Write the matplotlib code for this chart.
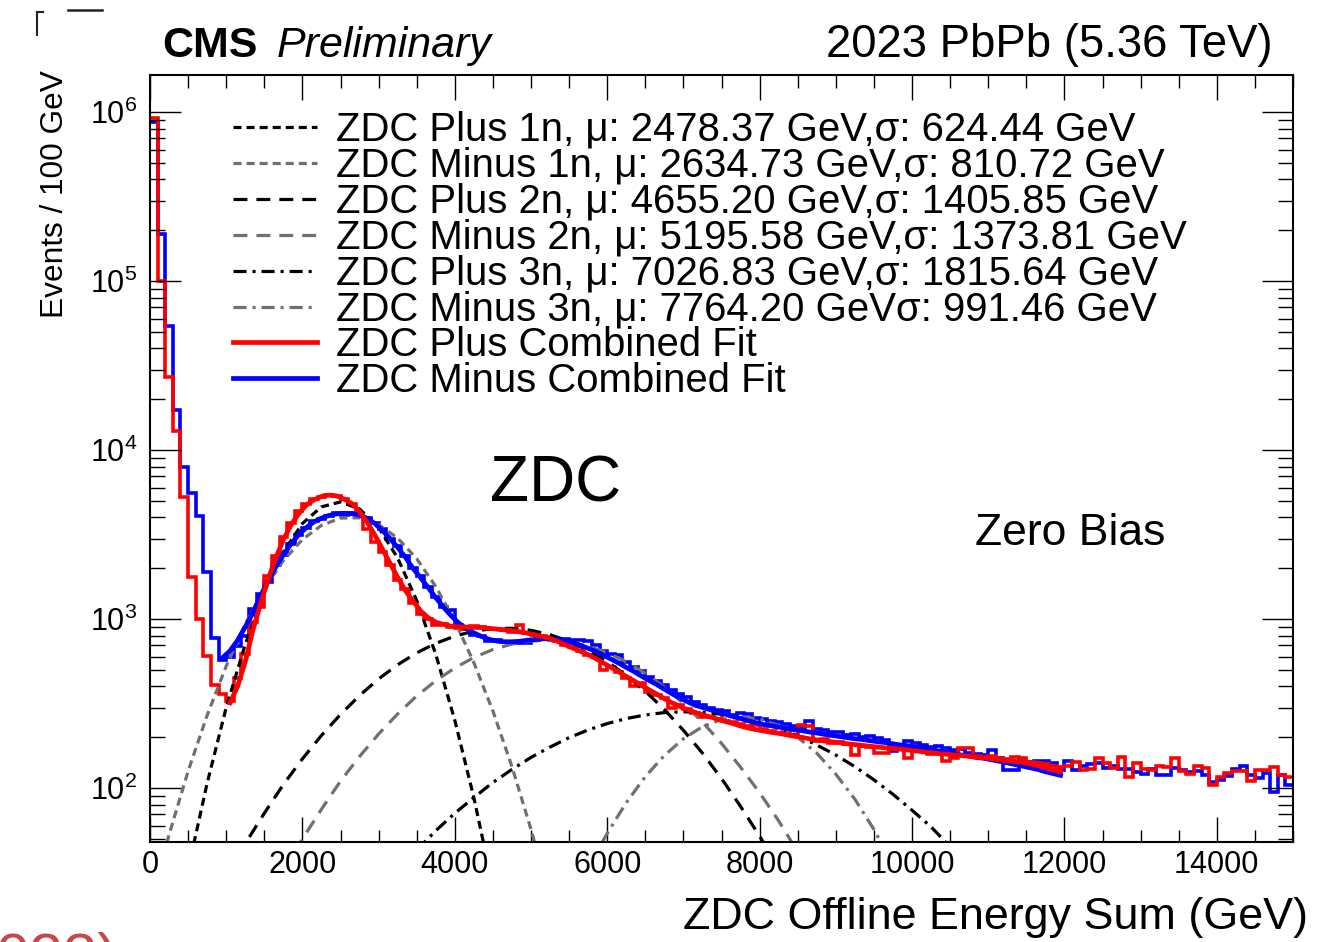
import numpy as np
import matplotlib
matplotlib.use("Agg")
import matplotlib.pyplot as plt
from matplotlib.lines import Line2D

plt.rcParams['font.family'] = ['Liberation Sans', 'DejaVu Sans']
plt.rcParams['mathtext.fontset'] = 'custom'
plt.rcParams['mathtext.rm'] = 'Liberation Sans'
plt.rcParams['lines.scale_dashes'] = False

# Histogramas: bines de 100 GeV entre 0 y 15000 GeV
bin_edges = np.arange(0, 15001, 100)

red_hist = [930000, 100000, 27000, 13000, 5300, 1770, 1000, 604, 406, 360,
            330, 450, 620, 960, 1180, 1800, 2350, 3050, 3700, 4350,
            4800, 5150, 5300, 5450, 5350, 5150, 4800, 4200, 3400, 2850,
            2500, 2100, 1700, 1500, 1240, 1080, 1000, 920, 940, 900,
            890, 880, 910, 900, 870, 880, 860, 845, 920, 830,
            810, 790, 780, 740, 700, 680, 650, 610, 600, 500,
            520, 490, 450, 400, 420, 370, 355, 340, 300, 310,
            292, 280, 265, 262, 278, 250, 245, 240, 232, 236,
            225, 218, 212, 215, 205, 236, 232, 190, 196, 185,
            188, 183, 157, 178, 176, 161, 162, 176, 170, 151,
            168, 165, 160, 163, 144, 150, 173, 172, 155, 151,
            154, 150, 148, 153, 150, 142, 140, 138, 136, 134,
            136, 142, 128, 130, 151, 140, 132, 153, 117, 140,
            130, 128, 135, 133, 151, 126, 122, 135, 132, 104,
            117, 123, 126, 126, 110, 128, 128, 134, 120, 117]

blue_hist = [870000, 190000, 54000, 17300, 8000, 5600, 4060, 1900, 773, 571,
             600, 690, 800, 1150, 1400, 1650, 2100, 2400, 2800, 3150,
             3450, 3800, 3900, 4100, 4250, 4150, 4250, 4100, 3950, 3700,
             3400, 3000, 2700, 2350, 2000, 1800, 1550, 1350, 1180, 1130,
             920, 880, 810, 790, 740, 750, 730, 725, 720, 718,
             750, 760, 770, 750, 765, 755, 752, 740, 700, 650,
             620, 612, 560, 520, 495, 455, 430, 405, 380, 360,
             345, 325, 310, 300, 290, 285, 272, 278, 276, 260,
             258, 250, 245, 238, 232, 228, 249, 225, 222, 215,
             214, 206, 209, 200, 203, 198, 194, 166, 170, 190,
             185, 180, 176, 178, 172, 168, 170, 162, 160, 158,
             168, 150, 128, 128, 145, 142, 145, 145, 140, 128,
             145, 128, 135, 138, 140, 132, 135, 130, 130, 125,
             122, 130, 120, 120, 132, 128, 125, 127, 120, 109,
             112, 118, 130, 135, 120, 115, 123, 95, 120, 104]

red_fit_x = np.arange(1050, 12000, 100)
red_fit = [320, 400, 560, 860, 1230, 1720, 2300, 2950, 3600, 4200,
           4720, 5080, 5320, 5420, 5360, 5130, 4830, 4330, 3750, 3150,
           2600, 2140, 1770, 1480, 1280, 1120, 1020, 960, 930, 910,
           900, 897, 894, 892, 882, 873, 865, 855, 842, 826,
           808, 789, 768, 738, 705, 674, 645, 617, 585, 550,
           518, 488, 458, 432, 405, 382, 360, 338, 320, 305,
           292, 281, 272, 264, 256, 248, 241, 233, 227, 222,
           218, 214, 211, 207, 203, 200, 196, 193, 190, 188,
           186, 183, 181, 179, 177, 175, 173, 171, 170, 168,
           166, 164, 162, 160, 159, 157, 156, 154, 152, 151,
           149, 147, 145, 144, 142, 139, 136, 132, 128, 125]

blue_fit_x = np.arange(950, 12000, 100)
blue_fit = [590, 650, 750, 900, 1090, 1370, 1690, 2040, 2400, 2780,
            3150, 3480, 3760, 3960, 4110, 4200, 4230, 4210, 4130, 3950,
            3680, 3350, 3000, 2660, 2330, 2000, 1760, 1540, 1340, 1180,
            1050, 950, 880, 830, 790, 760, 742, 735, 735, 740,
            750, 758, 765, 765, 762, 745, 725, 700, 672, 645,
            612, 580, 550, 518, 490, 460, 434, 410, 385, 362,
            342, 325, 310, 300, 291, 284, 274, 265, 258, 250,
            244, 238, 234, 230, 226, 222, 219, 215, 212, 208,
            205, 202, 199, 196, 194, 191, 188, 186, 183, 180,
            178, 175, 172, 169, 166, 163, 160, 157, 155, 152,
            150, 147, 144, 141, 138, 135, 132, 129, 125, 122, 119]

# Componentes gaussianas (leídas cada 250 GeV)
plus1n_x = np.arange(500, 4501, 250)
plus1n = [33, 107, 300, 710, 1450, 2500, 3680, 4620, 4940, 4490,
          3480, 2300, 1290, 620, 252, 88, 26]
minus1n_x = np.arange(0, 5251, 250)
minus1n = [20, 53, 126, 270, 527, 935, 1510, 2220, 2960, 3590, 3965,
           3980, 3630, 3015, 2280, 1560, 975, 553, 286, 134, 57, 22]
plus2n_x = np.arange(1000, 8251, 250)
plus2n = [30, 47, 71, 105, 149, 205, 273, 353, 443, 537,
          632, 719, 794, 849, 880, 883, 859, 809, 739, 653,
          560, 465, 374, 292, 220, 161, 114, 78, 52, 34]
minus2n_x = np.arange(1750, 8501, 250)
minus2n = [32, 50, 75, 110, 154, 209, 275, 351, 432, 514,
           593, 661, 712, 743, 750, 733, 692, 633, 560, 479,
           396, 317, 246, 184, 133, 94, 64, 42]
plus3n_x = np.arange(3500, 10751, 250)
plus3n = [43, 56, 71, 88, 108, 129, 152, 175, 199, 221,
          241, 258, 271, 280, 283, 281, 274, 261, 245, 226,
          204, 180, 157, 134, 112, 92, 74, 59, 45, 35]
minus3n_x = np.arange(5750, 9751, 250)
minus3n = [34, 54, 82, 117, 156, 196, 231, 255, 264, 257,
           234, 200, 161, 121, 86, 57, 35]

labels = ["ZDC Plus 1n, \u03bc: 2478.37 GeV,\u03c3: 624.44 GeV",
          "ZDC Minus 1n, \u03bc: 2634.73 GeV,\u03c3: 810.72 GeV",
          "ZDC Plus 2n, \u03bc: 4655.20 GeV,\u03c3: 1405.85 GeV",
          "ZDC Minus 2n, \u03bc: 5195.58 GeV,\u03c3: 1373.81 GeV",
          "ZDC Plus 3n, \u03bc: 7026.83 GeV,\u03c3: 1815.64 GeV",
          "ZDC Minus 3n, \u03bc: 7764.20 GeV\u03c3: 991.46 GeV",
          "ZDC Plus Combined Fit",
          "ZDC Minus Combined Fit"]

gray = "#707070"
ls_1n = (0, (5.8, 3.6))
ls_2n = (0, (10, 6.5))
ls_3n = (0, (9.4, 4.3, 2.2, 4.3))

fig = plt.figure(figsize=(13.21, 9.42), dpi=100)
ax = fig.add_axes([150/1321, 100/942, 1143/1321, 767/942])

# Histogramas
ax.stairs(blue_hist, bin_edges, baseline=None, color="#0000ff", lw=2.6)
ax.stairs(red_hist, bin_edges, baseline=None, color="#ff0000", lw=2.6)

# Componentes
h = []
h += ax.plot(plus1n_x, plus1n, color="black", lw=2.3, ls=ls_1n)
h += ax.plot(minus1n_x, minus1n, color=gray, lw=2.3, ls=ls_1n)
h += ax.plot(plus2n_x, plus2n, color="black", lw=2.3, ls=ls_2n)
h += ax.plot(minus2n_x, minus2n, color=gray, lw=2.3, ls=ls_2n)
h += ax.plot(plus3n_x, plus3n, color="black", lw=2.3, ls=ls_3n)
h += ax.plot(minus3n_x, minus3n, color=gray, lw=2.3, ls=ls_3n)

# Ajustes combinados
hb = ax.plot(blue_fit_x, blue_fit, color="#0000ff", lw=3.4)
hr = ax.plot(red_fit_x, red_fit, color="#ff0000", lw=3.4)
h += hr + hb

ax.set_yscale("log")
ax.set_xlim(0, 15000)
ax.set_ylim(48, 1.66e6)

ax.set_xticks(np.arange(0, 15000, 2000))
ax.set_xticks(np.arange(0, 15001, 500), minor=True)
ax.yaxis.set_major_locator(matplotlib.ticker.LogLocator(base=10, numticks=20))
ax.yaxis.set_minor_locator(matplotlib.ticker.LogLocator(base=10, subs=np.arange(2, 10), numticks=20))
ax.yaxis.set_minor_formatter(matplotlib.ticker.NullFormatter())

ax.tick_params(which="both", direction="in", top=True, right=True, width=1.0, labelsize=22)
ax.tick_params(axis="x", which="major", length=18, pad=6)
ax.tick_params(axis="x", which="minor", length=9)
ax.tick_params(axis="y", which="major", length=22, pad=9)
ax.tick_params(axis="y", which="minor", length=11)
for s in ax.spines.values():
    s.set_linewidth(1.5)

ax.set_xlabel("ZDC Offline Energy Sum (GeV)", fontsize=32.3, ha="right", va="top")
ax.xaxis.set_label_coords((1308-150)/1143, (842-897)/767)
ax.set_ylabel("Events / 100 GeV", fontsize=22.8, ha="right", va="center")
ax.yaxis.set_label_coords((55-150)/1143, (842-70)/767)

leg = ax.legend(h, labels, loc="upper left", bbox_to_anchor=((233-150)/1143, (842-111)/767),
                frameon=False, fontsize=28.9, handlelength=2.09, handletextpad=0.47,
                labelspacing=-0.052, borderpad=0, borderaxespad=0)

ax.text((490-150)/1143, (842-502)/767, "ZDC", fontsize=46, transform=ax.transAxes,
        ha="left", va="baseline")
ax.text((975-150)/1143, (842-545)/767, "Zero Bias", fontsize=32, transform=ax.transAxes,
        ha="left", va="baseline")

fig.text(162/1321, 1-57/942, "CMS", fontsize=31, fontweight="bold", ha="left", va="baseline")
fig.text(277/1321, 1-57/942, "Preliminary", fontsize=31, fontstyle="italic", ha="left", va="baseline")
fig.text(1273/1321, 1-57/942, "2023 PbPb (5.36 TeV)", fontsize=32.8, ha="right", va="baseline")

# Restos del recorte de la captura
fig.add_artist(Line2D([37/1321, 37/1321], [1-12/942, 1-35/942], color="#222222", lw=1.5))
fig.add_artist(Line2D([37/1321, 43/1321], [1-12/942, 1-12/942], color="#222222", lw=1.5))
fig.add_artist(Line2D([68/1321, 102/1321], [1-10/942, 1-10/942], color="#222222", lw=1.8))
fig.text(-4/1321, 1-932/942, "023)", fontsize=44, color="#c84848", ha="left", va="top")

fig.savefig("out.png", dpi=100)
